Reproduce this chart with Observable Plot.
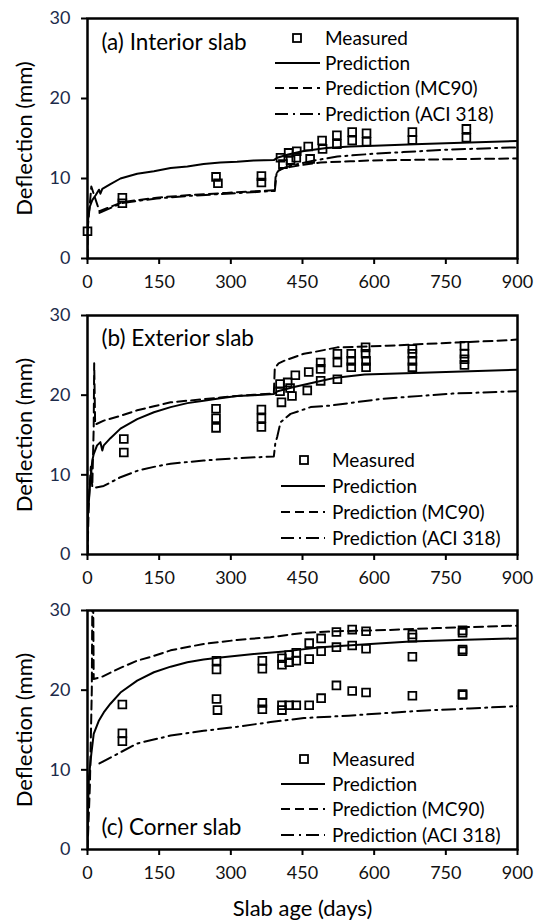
<!DOCTYPE html>
<html>
<head>
<meta charset="utf-8">
<script src="https://cdn.jsdelivr.net/npm/d3@7"></script>
<script src="https://cdn.jsdelivr.net/npm/@observablehq/plot@0.6"></script>
<style>
  body { margin: 0; background: #fff; }
  #chart svg { display: block; }
</style>
</head>
<body>
<div id="chart"></div>
<script>
// ---- tick labels, names ----
const xTicks = [0, 150, 300, 450, 600, 750, 900];
const yTicks = [0, 10, 20, 30];
const seriesNames = ["Measured", "Prediction", "Prediction (MC90)", "Prediction (ACI 318)"];
const panelTitles = ["(a) Interior slab", "(b) Exterior slab", "(c) Corner slab"];
const yTitle = "Deflection (mm)";
const xTitle = "Slab age (days)";

// ---- (a) Interior slab: [day, deflection mm] ----
const measuredA = [[0,3.4],[73,7.6],[73,6.9],[269,10.2],[273,9.4],[364,10.3],[364,9.5],
  [404,12.6],[409,11.8],[421,13.2],[425,12.3],[438,13.4],[437,12.6],[462,14.0],[466,12.45],
  [491,14.75],[492,13.7],[522,15.4],[522,14.3],[554,15.8],[554,14.75],[584,15.65],[584,14.6],
  [680,15.8],[680,14.8],[793,16.2],[793,15.1]];
const predA = [[0,0],[0,3.4],[2,5.5],[5,6.5],[10,7.3],[17,7.9],[24,8.6],[27,8.1],[31,8.7],[48,9.3],
  [69,10.0],[104,10.6],[139,10.9],[174,11.3],[209,11.5],[243,11.8],[278,12.0],[313,12.1],[348,12.25],
  [390,12.3],[397,12.6],[420,13.0],[450,13.4],[500,13.8],[550,14.0],[600,14.1],[700,14.3],[800,14.5],[900,14.7]];
const mc90A = [[0,0],[0,3.4],[3,5.5],[8,9.0],[14,7.9],[25,5.9],[73,7.05],[145,7.6],[218,7.95],[291,8.2],
  [364,8.45],[392,8.55],[394,10.5],[400,11.0],[411,11.3],[450,11.7],[488,12.0],[550,12.15],[592,12.25],
  [700,12.35],[800,12.45],[900,12.5]];
const aciA = [[25,5.7],[73,6.95],[145,7.5],[218,7.85],[291,8.1],[364,8.35],[392,8.45],[396,10.8],[405,11.2],
  [425,11.6],[470,12.2],[523,12.75],[600,13.1],[661,13.3],[750,13.6],[900,13.9]];

// ---- (b) Exterior slab ----
const measuredB = [[76,14.5],[76,12.8],[269,18.3],[269,17.1],[269,15.9],[364,18.2],[364,17.1],[364,16.0],
  [403,21.4],[403,20.5],[406,19.1],[419,21.6],[424,20.9],[428,19.9],[435,22.5],[460,20.6],[463,22.9],
  [488,24.1],[488,23.3],[488,21.8],[523,25.2],[523,24.1],[523,22.0],[552,25.2],[552,24.3],[552,23.5],
  [582,26.0],[582,25.2],[583,24.3],[583,23.5],[680,25.8],[680,25.2],[680,24.3],[680,23.5],
  [789,26.2],[789,25.2],[789,24.5],[789,23.8]];
const predB = [[0,0],[1,5],[3,6.8],[6,9.3],[10,11.8],[13,12.6],[20,13.7],[27,14.1],[31,13.05],[34,13.7],
  [48,14.6],[69,15.8],[104,17.0],[139,17.85],[174,18.5],[209,19.0],[243,19.3],[278,19.6],[313,19.9],
  [348,20.0],[390,20.15],[398,20.5],[430,21.0],[460,21.4],[490,21.8],[520,22.2],[580,22.6],[700,22.8],
  [800,23.0],[900,23.2]];
const mc90B = [[0,0],[3,7],[7,11],[10,8.5],[13,16],[14,24],[16,16.3],[34,16.8],[69,17.4],[104,18.1],
  [139,18.6],[174,19.1],[209,19.3],[243,19.5],[278,19.7],[313,19.9],[348,20.05],[390,20.2],[392,23.4],
  [400,24.0],[415,24.4],[453,25.2],[473,25.4],[523,26.0],[627,26.2],[732,26.5],[885,26.9],[900,27.0]];
const aciB = [[18,8.4],[34,8.6],[69,9.7],[104,10.5],[139,11.0],[174,11.4],[243,11.8],[313,12.1],[390,12.3],
  [393,13.9],[397,14.75],[404,16.6],[425,17.65],[467,18.5],[509,18.7],[618,19.55],[764,20.2],[900,20.5]];

// ---- (c) Corner slab ----
const measuredC = [[73,18.2],[73,14.6],[73,13.6],[270,23.7],[270,22.6],[270,18.9],[272,17.5],
  [366,23.7],[366,22.7],[366,18.4],[366,17.6],[407,24.0],[407,23.2],[407,18.1],[407,17.5],
  [422,24.4],[422,23.5],[422,18.1],[437,24.7],[437,23.7],[437,18.1],[464,25.9],[464,23.9],[464,18.1],
  [489,26.5],[489,24.9],[489,19.0],[521,27.3],[521,25.4],[521,20.6],[554,27.6],[554,25.6],[554,19.9],
  [583,27.4],[583,25.2],[583,19.7],[680,27.0],[680,26.6],[680,24.2],[680,19.3],
  [785,27.5],[785,27.2],[785,25.1],[785,24.9],[785,19.5],[785,19.4]];
const predC = [[0,0],[1,5],[3,9.1],[8,12.0],[13,14.5],[24,16.2],[34,17.2],[48,18.3],[69,19.7],[104,21.2],
  [139,22.25],[174,22.95],[209,23.5],[243,23.85],[278,24.1],[348,24.55],[418,24.9],[488,25.4],[592,25.8],
  [676,26.1],[774,26.3],[900,26.5]];
const mc90C = [[0,0],[5,8],[9,20],[11,40],[13,21.4],[31,21.7],[69,22.8],[104,23.7],[139,24.3],[174,25.0],
  [243,25.8],[313,26.3],[383,26.65],[453,27.2],[523,27.4],[627,27.55],[732,27.8],[900,28.1]];
const aciC = [[25,10.8],[69,12.2],[104,13.3],[174,14.3],[243,14.9],[313,15.4],[383,16.0],[453,16.5],
  [546,16.8],[691,17.4],[800,17.7],[900,18.0]];

const FONT = "Lato, 'Open Sans', sans-serif";
const dashMC90 = "9,5";
const dashACI = "13,5,2,5";

function panel(cfg) {
  const L = (arr, extra) => Plot.line(arr, {x: d => d[0], y: d => d[1], stroke: "black",
    strokeWidth: 2, clip: true, ...extra});
  const marks = [
    Plot.axisX({ticks: xTicks, tickSize: 6, tickPadding: 11, strokeWidth: 2, fontSize: 18, fill: "#111", label: null}),
    Plot.axisY({ticks: yTicks, tickSize: 6, tickPadding: 11, strokeWidth: 2, fontSize: 18, fill: "#1c2b4a", label: null}),
    L(cfg.aci, {strokeDasharray: dashACI}),
    L(cfg.mc90, {strokeDasharray: dashMC90}),
    L(cfg.pred, {}),
    Plot.dot(cfg.measured, {x: d => d[0], y: d => d[1], symbol: "square", r: 4.4,
      stroke: "black", strokeWidth: 1.8, fill: "none"}),
    Plot.frame({stroke: "black", strokeWidth: 2.5}),
    Plot.text([cfg.title], {frameAnchor: "top-left", dx: 14, dy: cfg.titleDy, textAnchor: "start",
      lineAnchor: "middle", fontSize: 22.5, fill: "black"}),
    Plot.text([yTitle], {frameAnchor: "left", dx: -63, rotate: -90, textAnchor: "middle",
      lineAnchor: "middle", fontSize: 22, fill: "black"})
  ];
  if (cfg.xTitle) {
    marks.push(Plot.text([xTitle], {frameAnchor: "bottom", dy: 59, textAnchor: "middle",
      lineAnchor: "middle", fontSize: 22, fill: "black"}));
  }
  const svg = Plot.plot({
    width: 546, height: cfg.height,
    marginLeft: 87, marginRight: 29, marginTop: 18, marginBottom: cfg.marginBottom,
    style: {fontFamily: FONT, fontSize: "18px", color: "black", background: "white", overflow: "visible"},
    x: {domain: [0, 900], ticks: xTicks},
    y: {domain: [0, 30], ticks: yTicks},
    marks
  });
  // legend (pixel layout)
  const lg = cfg.legend;
  const g = d3.select(svg).append("g").attr("font-family", FONT).attr("font-size", 19)
    .attr("fill", "black").attr("text-anchor", "start");
  g.append("rect").attr("x", lg.mx - 4).attr("y", lg.rows[0] - 4).attr("width", 8).attr("height", 8)
    .attr("fill", "none").attr("stroke", "black").attr("stroke-width", 1.8);
  const dashes = [null, null, dashMC90, dashACI];
  for (let i = 1; i < 4; i++) {
    const ln = g.append("line").attr("x1", lg.lx1).attr("x2", lg.lx2).attr("y1", lg.rows[i]).attr("y2", lg.rows[i])
      .attr("stroke", "black").attr("stroke-width", 2);
    if (dashes[i]) ln.attr("stroke-dasharray", dashes[i]);
  }
  seriesNames.forEach((s, i) => {
    g.append("text").attr("x", lg.tx).attr("y", lg.rows[i]).attr("dy", "0.35em")
      .attr("text-anchor", "start").text(s);
  });
  return svg;
}

const root = document.getElementById("chart");
root.appendChild(panel({measured: measuredA, pred: predA, mc90: mc90A, aci: aciA, title: panelTitles[0],
  height: 297, marginBottom: 39, titleDy: 24,
  legend: {mx: 297, tx: 325, lx1: 275, lx2: 320, rows: [38, 63, 88, 114]}}));
root.appendChild(panel({measured: measuredB, pred: predB, mc90: mc90B, aci: aciB, title: panelTitles[1],
  height: 295, marginBottom: 38, titleDy: 23,
  legend: {mx: 304, tx: 332, lx1: 281, lx2: 325, rows: [163, 189, 215, 241]}}));
root.appendChild(panel({measured: measuredC, pred: predC, mc90: mc90C, aci: aciC, title: panelTitles[2],
  height: 331, marginBottom: 74, titleDy: 217, xTitle: true,
  legend: {mx: 304, tx: 332, lx1: 281, lx2: 325, rows: [167, 192, 217, 243]}}));
</script>
</body>
</html>
